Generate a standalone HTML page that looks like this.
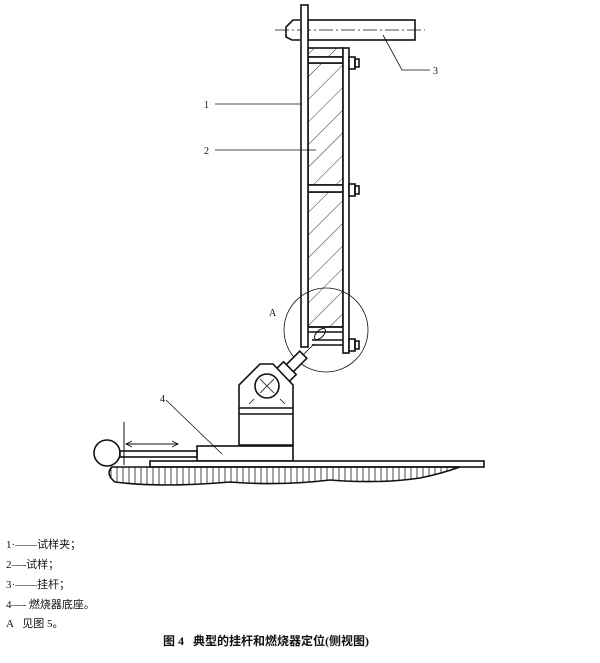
<!DOCTYPE html>
<html><head><meta charset="utf-8"><style>
body{margin:0;background:#fff;width:600px;height:663px;overflow:hidden;font-family:"Liberation Serif","Noto Serif CJK SC",serif;}
.t{position:absolute;font-size:11px;color:#111;font-family:"Liberation Serif","Noto Sans CJK SC",sans-serif;}
</style></head><body>
<svg width="600" height="663" style="position:absolute;left:0;top:0" xmlns="http://www.w3.org/2000/svg">
<defs>
<pattern id="h" width="16" height="16" patternUnits="userSpaceOnUse" patternTransform="rotate(45)"><line x1="0" y1="0" x2="0" y2="16" stroke="#333" stroke-width="1"/></pattern>
<pattern id="v" width="6" height="20" patternUnits="userSpaceOnUse"><line x1="3" y1="0" x2="3" y2="20" stroke="#333" stroke-width="0.9"/></pattern>
</defs>
<g stroke="#111" stroke-width="1.6" fill="none">
<path d="M300,20 L293,20 L286,27 L286,37 L292,40 L300,40" />
<rect x="308" y="20" width="107" height="20" fill="#fff"/>
<line x1="275" y1="30" x2="425" y2="30" stroke-width="0.8" stroke-dasharray="14,3,2,3"/>
<rect x="308" y="48" width="35" height="9" fill="url(#h)"/>
<rect x="308" y="63" width="35" height="122" fill="url(#h)"/>
<rect x="308" y="192" width="35" height="135" fill="url(#h)"/>
<rect x="308" y="57" width="35" height="6" fill="#fff"/>
<rect x="308" y="185" width="35" height="7" fill="#fff"/>
<line x1="308" y1="327" x2="343" y2="327"/>
<line x1="308" y1="332" x2="343" y2="332"/>
<line x1="312" y1="340" x2="343" y2="340"/>
<line x1="312" y1="345" x2="343" y2="345"/>
<rect x="301" y="5" width="7" height="342" fill="#fff"/>
<rect x="343" y="48" width="6" height="305" fill="#fff"/>
<rect x="349" y="57" width="6" height="12" fill="#fff"/><rect x="355" y="59" width="4" height="8"/>
<rect x="349" y="184" width="6" height="12" fill="#fff"/><rect x="355" y="186" width="4" height="8"/>
<rect x="349" y="339" width="6" height="12" fill="#fff"/><rect x="355" y="341" width="4" height="8"/>
<ellipse cx="320" cy="334" rx="7" ry="3.5" transform="rotate(-45 320 334)" stroke-width="1"/>
<circle cx="326" cy="330" r="42" stroke-width="0.8"/>
<g transform="rotate(-45 275 383)">
<rect x="275" y="378" width="40" height="10" fill="#fff"/>
<rect x="283" y="374" width="13" height="18" fill="#fff"/>
<line x1="315" y1="383" x2="330" y2="383" stroke-width="0.8"/>
</g>
<path d="M239,445 L239,385 L260,364 L273,364 L293,385 L293,445 Z" fill="#fff"/>
<line x1="239" y1="408" x2="293" y2="408"/>
<line x1="239" y1="414" x2="293" y2="414"/>
<circle cx="267" cy="386" r="12" fill="#fff"/>
<line x1="260" y1="379" x2="274" y2="393" stroke-width="0.8"/><line x1="274" y1="379" x2="260" y2="393" stroke-width="0.8"/>
<line x1="254" y1="399" x2="249" y2="404" stroke-width="0.8"/><line x1="280" y1="399" x2="285" y2="404" stroke-width="0.8"/>
<rect x="197" y="446" width="96" height="15" fill="#fff"/>
<rect x="150" y="461" width="334" height="6" fill="#fff"/>
<path d="M112,467 L460,467 Q440,474 420,478 Q380,484 330,480 Q280,486 230,482 Q160,488 115,482 Q105,474 112,467 Z" fill="url(#v)"/>
<circle cx="107" cy="453" r="13" fill="#fff"/>
<rect x="120" y="451" width="77" height="6" fill="#fff"/>
<line x1="124" y1="422" x2="124" y2="465" stroke-width="1"/>
<line x1="127" y1="444" x2="178" y2="444" stroke-width="0.9"/>
<path d="M132,441 L126,444 L132,447 M172,441 L178,444 L172,447" stroke-width="0.9"/>
<g stroke-width="0.8">
<line x1="215" y1="104" x2="302" y2="104"/>
<line x1="215" y1="150" x2="316" y2="150"/>
<polyline points="383,35 402,70 430,70"/>
<line x1="166" y1="400" x2="222" y2="454"/>
</g>
</g>
<g font-family="Liberation Serif,serif" font-size="10" fill="#111">
<text x="204" y="108">1</text><text x="204" y="154">2</text><text x="433" y="74">3</text>
<text x="160" y="402">4</text><text x="269" y="316">A</text>
</g>
</svg>
<div class="t" style="left:6px;top:536px">1·——试样夹；</div>
<div class="t" style="left:6px;top:556px">2—-试样；</div>
<div class="t" style="left:6px;top:576px">3·——挂杆；</div>
<div class="t" style="left:6px;top:596px">4—- 燃烧器底座。</div>
<div class="t" style="left:6px;top:615px">A&nbsp;&nbsp;&nbsp;见图 5。</div>
<div class="t" style="left:163px;top:632px;font-weight:bold;font-size:12px">图 4&nbsp;&nbsp;&nbsp;典型的挂杆和燃烧器定位(侧视图)</div>
</body></html>
